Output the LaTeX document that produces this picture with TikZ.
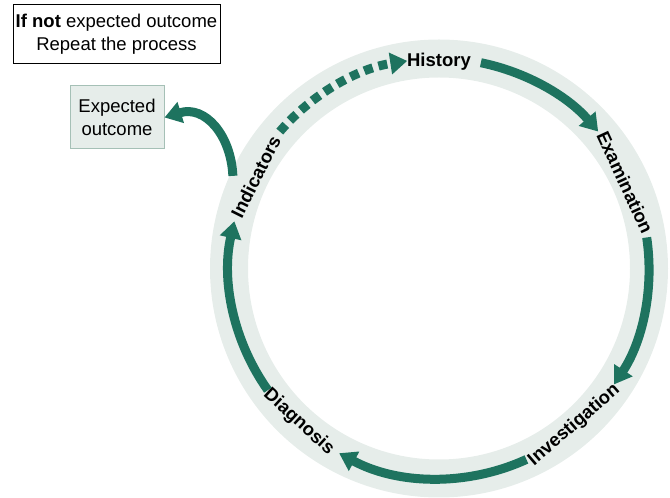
\documentclass[tikz,border=0pt]{standalone}
\usepackage{fontspec}
\setmainfont{Liberation Sans}
\usetikzlibrary{arrows.meta,positioning}
\definecolor{cyclegreen}{RGB}{30,115,95}
\definecolor{ringgray}{RGB}{230,237,234}
\definecolor{boxedge}{RGB}{165,192,182}
\tikzset{
  cyclearrow/.style={draw=cyclegreen, line width=9pt, -{Triangle[length=17pt,width=21pt]}},
  stage/.style={font=\fontsize{18.5}{23}\selectfont\bfseries, inner sep=1pt},
  textbox/.style={font=\fontsize{18.5}{23}\selectfont, align=center, inner sep=2pt},
}

\begin{document}
\begin{tikzpicture}[x=1pt,y=1pt]
\useasboundingbox (0,0) rectangle (670,498);
% boxes
\node[textbox, draw=black, line width=1pt, minimum width=207pt, minimum height=59pt] (advice) at (116.5,463.5) {\textbf{If not} expected outcome\\Repeat the process};
\node[textbox, draw=boxedge, fill=ringgray, line width=1pt, minimum width=94pt, minimum height=63pt] (outcome) at (117,380.5) {Expected\\outcome};
\begin{scope}[shift={(439,229.5)}]
\draw[ringgray, line width=38pt] (0,0) circle[radius=210];
% stages round the ring
\draw(90:207) node[stage] (history) {History};
\draw(24.8:205) node[stage, rotate=-65.2] (exam) {Examination};
\draw(-49.2:207) node[stage, rotate=40.8] (invest) {Investigation};
\draw(-132.4:208) node[stage, rotate=-42.4] (diag) {Diagnosis};
\draw(153.4:205) node[stage, rotate=63.4] (indic) {Indicators};
\coordinate (branch) at (155.8:226);
% arrows between stages
\draw[cyclearrow] (78.5:210) arc[start angle=78.5, end angle=40.7, radius=210];
\draw[cyclearrow] (8.5:210) arc[start angle=8.5, end angle=-33.5, radius=210];
\draw[cyclearrow] (-65.4:210) arc[start angle=-65.4, end angle=-118.4, radius=210];
\draw[cyclearrow] (215.4:210) arc[start angle=215.4, end angle=167, radius=210];
\draw[cyclearrow, dash pattern=on 9pt off 6pt] (139.3:210) arc[start angle=139.3, end angle=98.7, radius=210];
\end{scope}
\draw[cyclearrow] (branch) .. controls (231,363) and (205,393) .. (outcome.east);
\end{tikzpicture}
\end{document}
